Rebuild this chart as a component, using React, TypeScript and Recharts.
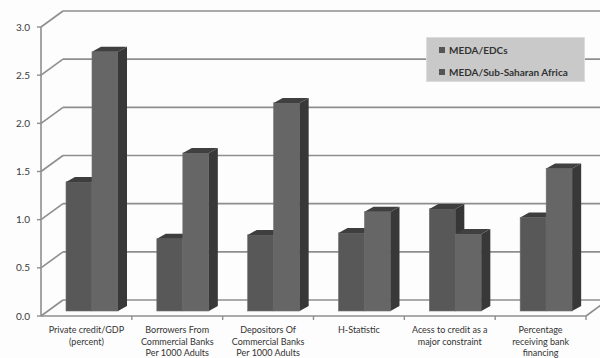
import React from 'react'
import { BarChart, Bar, XAxis, YAxis, CartesianGrid } from 'recharts'

const categories = [
  'Private credit/GDP\n(percent)',
  'Borrowers From\nCommercial Banks\nPer 1000 Adults',
  'Depositors Of\nCommercial Banks\nPer 1000 Adults',
  'H-Statistic',
  'Acess to credit as a\nmajor constraint',
  'Percentage\nreceiving bank\nfinancing',
]
const medaEdcs = [1.34, 0.75, 0.79, 0.81, 1.06, 0.97]
const medaSsa = [2.69, 1.64, 2.16, 1.03, 0.8, 1.48]
const yTicks = [0, 0.5, 1, 1.5, 2, 2.5, 3]

const SERIES = [
  { key: 'edcs', name: 'MEDA/EDCs', front: '#585858', side: '#363636', top: '#3e3e3e' },
  { key: 'ssa', name: 'MEDA/Sub-Saharan Africa', front: '#666666', side: '#383838', top: '#404040' },
]

const data = categories.map((c, i) => ({ cat: c, edcs: medaEdcs[i], ssa: medaSsa[i] }))

const FONT = 'Lato, "Open Sans", sans-serif'
const GRID = '#8e8e8e'
// wall depth (left/back wall) and bar depth
const WALL_DX = 22
const WALL_DY = 16
const BAR_DX = 9
const BAR_DY = 5

function make3dBar(s: typeof SERIES[number]) {
  return (props: any) => {
    const { x, y, width, height } = props
    if (height == null || width == null) return <g />
    const X = x + 6
    const Y = y - BAR_DY
    const B = y + height - BAR_DY
    const R = X + width
    return (
      <g>
        <rect x={X} y={Y} width={width} height={B - Y} fill={s.front} stroke="#6e6e6e" strokeWidth={0.6} />
        <polygon points={`${R},${Y} ${R + BAR_DX},${Y - BAR_DY} ${R + BAR_DX},${B - BAR_DY} ${R},${B}`} fill={s.side} />
        <polygon points={`${X},${Y} ${X + BAR_DX},${Y - BAR_DY} ${R + BAR_DX},${Y - BAR_DY} ${R},${Y}`} fill={s.top} />
      </g>
    )
  }
}

// left wall diagonals + back wall lines, drawn from each horizontal grid line
function wallLine(props: any) {
  const { x1, y1, x2, y2, index } = props
  const bx = x1 + WALL_DX
  const by = y1 - WALL_DY
  return (
    <g key={`wl-${index}-${y1}`}>
      <line x1={x1} y1={y1} x2={bx} y2={by} stroke={GRID} strokeWidth={1.6} />
      <line x1={bx} y1={by} x2={x2 + WALL_DX} y2={y2 - WALL_DY} stroke={GRID} strokeWidth={1.6} />
      {Math.abs(y1 - 316) < 2 && (
        <line x1={x2} y1={y2} x2={x2 + WALL_DX} y2={y2 - WALL_DY} stroke={GRID} strokeWidth={1.6} />
      )}
    </g>
  )
}

function CategoryTick(props: any) {
  const { x, y, payload } = props
  const half = payload.offset ?? 45.4
  const lines = String(payload.value).split('\n')
  return (
    <g>
      <line x1={x + half} y1={y - 8} x2={x + half} y2={y - 4} stroke={GRID} strokeWidth={1.4} />
      <text x={x} y={y + 9} textAnchor="middle" fontSize={9} fill="#333" fontFamily={FONT}>
        {lines.map((l, i) => (
          <tspan key={i} x={x} dy={i === 0 ? 0 : 11.5}>{l}</tspan>
        ))}
      </text>
    </g>
  )
}

function LegendBox() {
  return (
    <div style={{
      position: 'absolute', top: 37, left: 426,
      background: '#c9c9c9', border: '1px solid #dcdcdc', width: 159, height: 45,
      boxSizing: 'border-box', padding: '3px 0 0 12px', fontFamily: FONT,
      fontSize: 10, fontWeight: 700, color: '#333',
    }}>
      {SERIES.map(s => (
        <div key={s.key} style={{ display: 'flex', alignItems: 'center', height: 17, marginBottom: 5 }}>
          <span style={{ width: 6, height: 6, background: '#555', marginRight: 4, display: 'inline-block' }} />
          {s.name}
        </div>
      ))}
    </div>
  )
}

export default function App() {
  return (
    <div style={{ width: 600, height: 358, background: '#fdfdfd', position: 'relative' }}>
      <style>{'body{margin:0}'}</style>
      <BarChart
        width={600}
        height={358}
        data={data}
        margin={{ top: 27, right: 14, bottom: 0, left: 0 }}
        barGap={0}
        barSize={26}
      >
        <CartesianGrid vertical={false} horizontal={wallLine} />
        <XAxis
          dataKey="cat"
          height={42}
          interval={0}
          tick={<CategoryTick />}
          tickLine={false}
          axisLine={{ stroke: GRID, strokeWidth: 1.6 }}
        />
        <YAxis
          domain={[0, 3]}
          ticks={yTicks}
          width={41}
          tickSize={4}
          tickMargin={7}
          tickFormatter={(v: number) => v.toFixed(1)}
          tick={{ fontSize: 10, fill: '#3a3a3a', fontFamily: FONT }}
          axisLine={{ stroke: GRID, strokeWidth: 1.6 }}
          tickLine={{ stroke: GRID, strokeWidth: 1.4 }}
        />
        {SERIES.map(s => (
          <Bar key={s.key} dataKey={s.key} name={s.name} fill={s.front} shape={make3dBar(s)} isAnimationActive={false} />
        ))}
      </BarChart>
      <LegendBox />
    </div>
  )
}
